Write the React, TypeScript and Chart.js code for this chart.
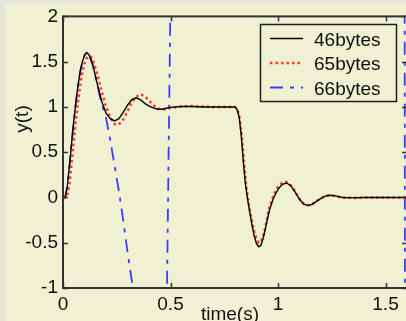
import React, { useEffect, useRef } from "react";
import { Chart, registerables } from "chart.js";

Chart.register(...registerables);

// time samples (s) shared by the 46bytes and 65bytes series
const T = [
  0, 0.01, 0.02, 0.03, 0.04, 0.05, 0.06, 0.07, 0.08, 0.09, 0.1, 0.11, 0.12, 0.13, 0.14, 0.16, 0.18,
  0.2, 0.22, 0.24, 0.26, 0.28, 0.3, 0.32, 0.34, 0.36, 0.38, 0.4, 0.42, 0.44, 0.46, 0.48, 0.5, 0.55,
  0.6, 0.65, 0.7, 0.75, 0.8, 0.81, 0.82, 0.83, 0.84, 0.85, 0.86, 0.87, 0.88, 0.89, 0.9, 0.91, 0.92,
  0.93, 0.94, 0.96, 0.98, 1.0, 1.02, 1.04, 1.06, 1.08, 1.1, 1.12, 1.14, 1.16, 1.18, 1.2, 1.22, 1.24,
  1.26, 1.3, 1.35, 1.4, 1.5, 1.6,
];

const Y46 = [
  0, 0.0, 0.12, 0.35, 0.6, 0.84, 1.05, 1.24, 1.39, 1.5, 1.57, 1.6, 1.58, 1.53, 1.45, 1.25, 1.06,
  0.93, 0.87, 0.845, 0.87, 0.94, 1.02, 1.08, 1.1, 1.08, 1.04, 1.01, 0.99, 0.975, 0.975, 0.985, 0.995, 1.005,
  1.005, 1.0, 1.0, 1.0, 1.0, 0.97, 0.88, 0.66, 0.36, 0.12, -0.04, -0.18, -0.32, -0.43, -0.51, -0.545, -0.53,
  -0.46, -0.36, -0.14, 0.0, 0.09, 0.145, 0.16, 0.13, 0.06, -0.02, -0.075, -0.09, -0.075, -0.04, -0.01, 0.015, 0.025,
  0.02, 0.0, -0.005, 0.0, 0.0, 0.0,
];

const Y65 = [
  0, 0.0, 0.02, 0.15, 0.38, 0.62, 0.85, 1.06, 1.24, 1.38, 1.48, 1.54, 1.56, 1.555, 1.51, 1.36, 1.17,
  1.0, 0.88, 0.81, 0.805, 0.86, 0.95, 1.05, 1.11, 1.14, 1.12, 1.07, 1.02, 0.985, 0.97, 0.975, 0.99, 1.005,
  1.01, 1.005, 1.0, 1.0, 1.0, 0.98, 0.9, 0.72, 0.44, 0.17, -0.01, -0.15, -0.27, -0.38, -0.46, -0.5, -0.49,
  -0.43, -0.34, -0.11, 0.03, 0.12, 0.165, 0.17, 0.13, 0.065, -0.015, -0.07, -0.085, -0.07, -0.04, -0.01, 0.015, 0.025,
  0.02, 0.0, -0.005, 0.0, 0.0, 0.0,
];

// time samples (s) and values of the unstable 66bytes series
const TB = [
  0, 0.01, 0.02, 0.03, 0.04, 0.05, 0.06, 0.07, 0.08, 0.09, 0.1, 0.11, 0.12, 0.14, 0.16, 0.18, 0.2,
  0.22, 0.24, 0.26, 0.28, 0.3, 0.32, 0.34, 0.36, 0.4, 0.44, 0.46, 0.48, 0.5, 0.52, 0.56, 0.7, 0.9,
  1.1, 1.3, 1.5, 1.58, 1.6,
];
const Y66 = [
  0, 0.0, 0.12, 0.35, 0.6, 0.84, 1.05, 1.24, 1.39, 1.5, 1.57, 1.6, 1.58, 1.45, 1.24, 1.03, 0.88,
  0.63, 0.35, 0.07, -0.25, -0.6, -0.92, -1.25, -2.2, -3.4, -3.6, -3.0, -1.73, 2.2, 6.5, 14, 30, 45,
  50, 45, 30, 22, -22,
];

const SERIES_LABELS = ["46bytes", "65bytes", "66bytes"];
const X_TICKS = [0, 0.5, 1, 1.5];
const Y_TICKS = [-1, -0.5, 0, 0.5, 1, 1.5, 2];
const X_TITLE = "time(s)";
const Y_TITLE = "y(t)";

const FONT = "'Liberation Sans', Arial, sans-serif";
const FONT_SIZE = 19;
const W = 420;
const H = 340;

const decorations = {
  id: "decorations",
  afterDraw(chart: any) {
    const { ctx, chartArea: a, scales } = chart;
    const x = scales.x;
    const y = scales.y;
    const seg = (x1: number, y1: number, x2: number, y2: number) => {
      ctx.beginPath();
      ctx.moveTo(x1, y1);
      ctx.lineTo(x2, y2);
      ctx.stroke();
    };
    ctx.save();
    ctx.strokeStyle = "#333";
    ctx.lineWidth = 2;
    ctx.setLineDash([]);
    ctx.strokeRect(a.left, a.top, a.right - a.left, a.bottom - a.top);
    ctx.lineWidth = 1.5;
    X_TICKS.forEach((v) => {
      const px = Math.round(x.getPixelForValue(v)) + 0.5;
      seg(px, a.bottom, px, a.bottom - 5);
      seg(px, a.top, px, a.top + 5);
    });
    Y_TICKS.forEach((v) => {
      const py = Math.round(y.getPixelForValue(v)) + 0.5;
      seg(a.left, py, a.left + 5, py);
      seg(a.right, py, a.right - 5, py);
    });

    // axis titles
    ctx.fillStyle = "#111";
    ctx.font = `${FONT_SIZE}px ${FONT}`;
    ctx.textAlign = "center";
    ctx.textBaseline = "alphabetic";
    ctx.fillText(X_TITLE, 230, 320);
    ctx.save();
    ctx.translate(28, 119);
    ctx.rotate(-Math.PI / 2);
    ctx.fillText(Y_TITLE, 0, 0);
    ctx.restore();

    // legend
    const lx = 260.5, ly = 24.5, lw = 136, lh = 77;
    ctx.fillStyle = "#f0f0d2";
    ctx.fillRect(lx, ly, lw, lh);
    ctx.strokeStyle = "#222";
    ctx.lineWidth = 1.5;
    ctx.strokeRect(lx, ly, lw, lh);
    const rows = [38.5, 63, 87.5];
    chart.data.datasets.forEach((ds: any, i: number) => {
      const ry = rows[i];
      ctx.save();
      ctx.strokeStyle = ds.borderColor;
      ctx.lineWidth = ds.borderWidth;
      ctx.setLineDash(ds.borderDash || []);
      ctx.lineCap = "butt";
      seg(270, ry, 303, ry);
      ctx.restore();
      ctx.fillStyle = "#111";
      ctx.textAlign = "left";
      ctx.textBaseline = "alphabetic";
      ctx.fillText(ds.label, 314, ry + 7);
    });
    ctx.restore();
  },
};

export default function App() {
  const ref = useRef<HTMLCanvasElement | null>(null);

  useEffect(() => {
    if (!ref.current) return;
    const toPts = (ts: number[], ys: number[]) => ts.map((t, i) => ({ x: t, y: ys[i] }));
    const chart = new Chart(ref.current, {
      type: "line",
      data: {
        datasets: [
          {
            label: SERIES_LABELS[0],
            data: toPts(T, Y46),
            borderColor: "#000000",
            borderWidth: 1.4,
            pointRadius: 0,
            tension: 0,
          },
          {
            label: SERIES_LABELS[1],
            data: toPts(T, Y65),
            borderColor: "#ff3b1f",
            borderWidth: 2.5,
            borderDash: [2.5, 3],
            pointRadius: 0,
            tension: 0,
          },
          {
            label: SERIES_LABELS[2],
            data: toPts(TB, Y66),
            borderColor: "#3c3cff",
            borderWidth: 1.8,
            borderDash: [13, 7, 4, 7],
            pointRadius: 0,
            tension: 0,
          },
        ],
      },
      options: {
        responsive: false,
        devicePixelRatio: 1,
        animation: false,
        events: [],
        layout: { padding: { top: 15, right: W - 407, left: 0, bottom: 0 } },
        plugins: { legend: { display: false }, tooltip: { enabled: false } },
        scales: {
          x: {
            type: "linear",
            position: "bottom",
            min: 0,
            max: 1.6,
            afterBuildTicks: (s: any) => {
              s.ticks = X_TICKS.map((v) => ({ value: v }));
            },
            afterFit: (s: any) => {
              s.height = H - 288;
            },
            grid: { display: false, drawTicks: false },
            border: { display: false },
            ticks: {
              padding: 5,
              maxRotation: 0,
              autoSkip: false,
              color: "#111",
              font: { family: FONT, size: FONT_SIZE },
              callback: (v: any) => String(v),
            },
          },
          y: {
            type: "linear",
            min: -1,
            max: 2,
            afterBuildTicks: (s: any) => {
              s.ticks = Y_TICKS.map((v) => ({ value: v }));
            },
            afterFit: (s: any) => {
              s.width = 63;
            },
            grid: { display: false, drawTicks: false },
            border: { display: false },
            ticks: {
              padding: 5,
              autoSkip: false,
              color: "#111",
              font: { family: FONT, size: FONT_SIZE },
              callback: (v: any) => String(v),
            },
          },
        },
      },
      plugins: [decorations],
    });
    return () => chart.destroy();
  }, []);

  return (
    <div
      style={{
        position: "fixed",
        left: 0,
        top: 0,
        width: 406,
        height: 321,
        overflow: "hidden",
        background: "#e6e6dc",
      }}
    >
      <div
        style={{ position: "absolute", left: 5, top: 3, right: 0, bottom: 0, background: "#f0f0d2" }}
      />
      <canvas
        ref={ref}
        width={W}
        height={H}
        style={{ position: "absolute", left: 0, top: 0, width: W, height: H }}
      />
    </div>
  );
}
